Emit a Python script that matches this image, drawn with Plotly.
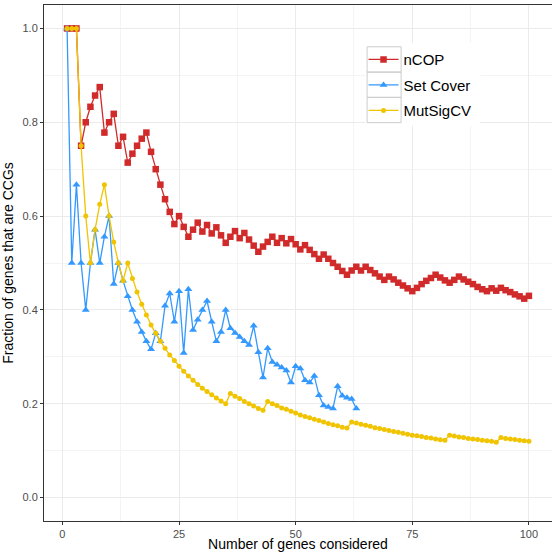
import plotly.graph_objects as go

# Number of genes considered
n_ncop = list(range(1, 101))
n_setcover = list(range(1, 64))
n_mutsig = list(range(1, 101))

# Fraction of genes that are CGCs
ncop = [
    1.0, 1.0, 1.0, 0.75, 0.8, 0.833, 0.857, 0.875, 0.778, 0.8,
    0.818, 0.75, 0.769, 0.714, 0.733, 0.75, 0.765, 0.778, 0.737, 0.7,
    0.667, 0.636, 0.609, 0.583, 0.6, 0.577, 0.556, 0.571, 0.586, 0.567,
    0.581, 0.563, 0.576, 0.559, 0.543, 0.556, 0.568, 0.553, 0.564, 0.55,
    0.537, 0.524, 0.535, 0.545, 0.556, 0.543, 0.553, 0.542, 0.551, 0.54,
    0.529, 0.538, 0.528, 0.519, 0.509, 0.518, 0.509, 0.5, 0.492, 0.483,
    0.475, 0.484, 0.492, 0.484, 0.492, 0.485, 0.478, 0.471, 0.464, 0.471,
    0.465, 0.458, 0.452, 0.446, 0.44, 0.447, 0.455, 0.462, 0.468, 0.475,
    0.469, 0.463, 0.458, 0.464, 0.471, 0.465, 0.46, 0.455, 0.449, 0.444,
    0.44, 0.446, 0.441, 0.447, 0.442, 0.438, 0.433, 0.429, 0.424, 0.43,
]

setcover = [
    1.0, 0.5, 0.667, 0.5, 0.4, 0.5, 0.571, 0.5, 0.556, 0.6,
    0.455, 0.5, 0.462, 0.429, 0.4, 0.375, 0.353, 0.333, 0.316, 0.35,
    0.333, 0.409, 0.435, 0.375, 0.44, 0.308, 0.444, 0.357, 0.379, 0.4,
    0.419, 0.375, 0.333, 0.353, 0.4, 0.361, 0.351, 0.342, 0.333, 0.325,
    0.366, 0.31, 0.256, 0.318, 0.289, 0.283, 0.277, 0.271, 0.245, 0.28,
    0.275, 0.25, 0.245, 0.259, 0.218, 0.196, 0.193, 0.19, 0.237, 0.217,
    0.213, 0.21, 0.19,
]

mutsigcv = [
    1.0, 1.0, 1.0, 0.75, 0.6, 0.5, 0.571, 0.625, 0.667, 0.6,
    0.545, 0.5, 0.462, 0.5, 0.467, 0.438, 0.412, 0.389, 0.368, 0.35,
    0.333, 0.318, 0.304, 0.292, 0.28, 0.269, 0.259, 0.25, 0.241, 0.233,
    0.226, 0.219, 0.212, 0.206, 0.2, 0.222, 0.216, 0.211, 0.205, 0.2,
    0.195, 0.19, 0.186, 0.205, 0.2, 0.196, 0.191, 0.188, 0.184, 0.18,
    0.176, 0.173, 0.17, 0.167, 0.164, 0.161, 0.158, 0.155, 0.153, 0.15,
    0.148, 0.161, 0.159, 0.156, 0.154, 0.152, 0.149, 0.147, 0.145, 0.143,
    0.141, 0.139, 0.137, 0.135, 0.133, 0.132, 0.13, 0.128, 0.127, 0.125,
    0.123, 0.122, 0.133, 0.131, 0.129, 0.128, 0.126, 0.125, 0.124, 0.122,
    0.121, 0.12, 0.118, 0.128, 0.126, 0.125, 0.124, 0.122, 0.121, 0.12,
]

series_names = ["nCOP", "Set Cover", "MutSigCV"]
x_ticks = [0, 25, 50, 75, 100]
y_ticks = [0.0, 0.2, 0.4, 0.6, 0.8, 1.0]
y_tick_labels = ["0.0", "0.2", "0.4", "0.6", "0.8", "1.0"]

FONT = "Liberation Sans, Arial, Helvetica, sans-serif"

fig = go.Figure()
fig.add_trace(go.Scatter(
    x=n_ncop, y=ncop, name=series_names[0], mode="lines+markers", legendgroup="a",
    line=dict(color="#D12A2A", width=1.3),
    marker=dict(symbol="square", size=6.5, color="#D12A2A"),
))
fig.add_trace(go.Scatter(
    x=n_setcover, y=setcover, name=series_names[1], mode="lines+markers", legendgroup="b",
    line=dict(color="#3399FF", width=1.3),
    marker=dict(symbol="triangle-up", size=7, color="#3399FF"),
))
fig.add_trace(go.Scatter(
    x=n_mutsig, y=mutsigcv, name=series_names[2], mode="lines+markers", legendgroup="c",
    line=dict(color="#F0C400", width=1.3),
    marker=dict(symbol="circle", size=5, color="#F0C400"),
))

axis_common = dict(
    showgrid=True, gridcolor="#EBEBEB", gridwidth=1,
    zeroline=False, showline=True, linecolor="#333333", linewidth=1,
    mirror=True, ticks="outside", ticklen=3, tickcolor="#333333",
    tickfont=dict(family=FONT, size=11, color="#4D4D4D"),
    automargin=False,
)

# legend background and key boxes (paper coordinates)
legend_shapes = [
    dict(type="rect", xref="paper", yref="paper", x0=0.632, x1=0.859, y0=0.766, y1=0.927,
         fillcolor="white", line=dict(width=0), layer="above"),
    dict(type="rect", xref="paper", yref="paper", x0=0.636, x1=0.703, y0=0.870, y1=0.919,
         fillcolor="rgba(0,0,0,0)", line=dict(color="#CCCCCC", width=1), layer="above"),
    dict(type="rect", xref="paper", yref="paper", x0=0.636, x1=0.703, y0=0.821, y1=0.870,
         fillcolor="rgba(0,0,0,0)", line=dict(color="#CCCCCC", width=1), layer="above"),
    dict(type="rect", xref="paper", yref="paper", x0=0.636, x1=0.703, y0=0.772, y1=0.821,
         fillcolor="rgba(0,0,0,0)", line=dict(color="#CCCCCC", width=1), layer="above"),
]

fig.update_layout(
    width=552, height=552,
    margin=dict(l=44, r=0, t=5, b=31, autoexpand=False),
    paper_bgcolor="white", plot_bgcolor="white",
    font=dict(family=FONT, color="black"),
    xaxis=dict(
        range=[-3.95, 104.95], tickvals=x_ticks,
        title=dict(text="Number of genes considered", font=dict(family=FONT, size=14), standoff=10),
        minor=dict(tickvals=[12.5, 37.5, 62.5, 87.5], ticks="", showgrid=True,
                   gridcolor="#F4F4F4", gridwidth=0.6),
        **axis_common,
    ),
    yaxis=dict(
        range=[-0.05, 1.05], tickvals=y_ticks, ticktext=y_tick_labels,
        title=dict(text="Fraction of genes that are CCGs", font=dict(family=FONT, size=14), standoff=5),
        minor=dict(tickvals=[0.1, 0.3, 0.5, 0.7, 0.9], ticks="", showgrid=True,
                   gridcolor="#F4F4F4", gridwidth=0.6),
        **axis_common,
    ),
    legend=dict(
        x=0.629, y=0.926, xanchor="left", yanchor="top",
        bgcolor="rgba(0,0,0,0)", borderwidth=0,
        font=dict(family=FONT, size=15, color="black"),
        itemwidth=30, tracegroupgap=3,
    ),
    shapes=legend_shapes,
    showlegend=True,
)

fig.write_html("out.html", config={"displayModeBar": False},
               post_script="document.body.style.margin='0';")
